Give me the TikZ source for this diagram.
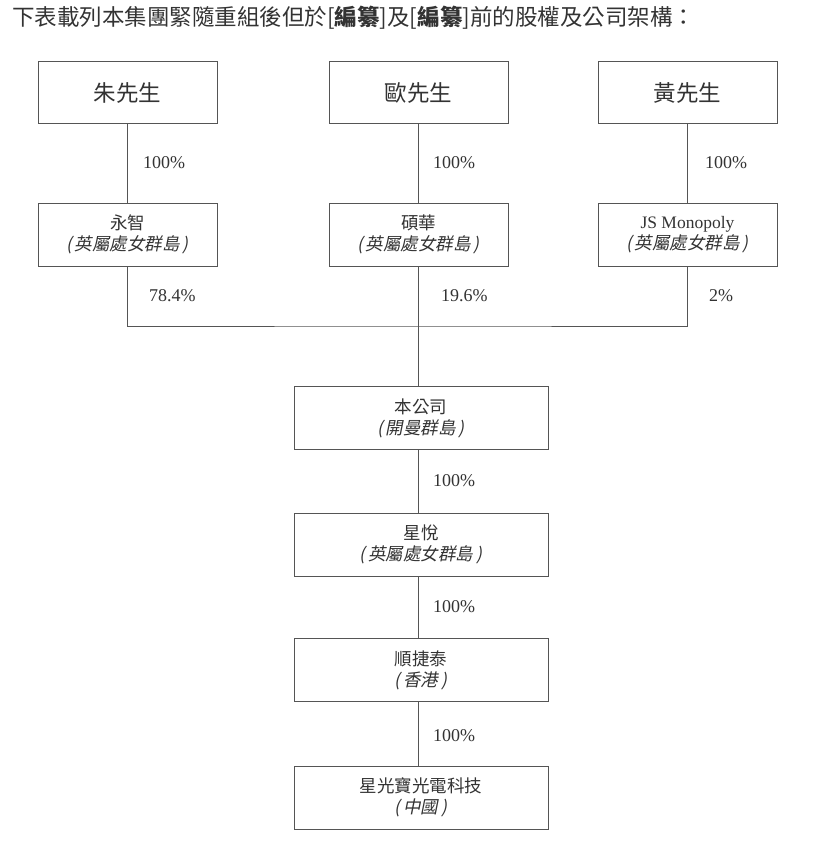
\documentclass[tikz,border=0pt]{standalone}
\usepackage{fontspec}
\setmainfont{Liberation Serif}
\newfontfamily\cjk{Noto Sans CJK TC}
\newfontfamily\cjkit[FakeSlant=0.2]{Noto Sans CJK TC}
\definecolor{linec}{HTML}{555555}
\definecolor{txtc}{HTML}{333333}
\newcommand{\plc}[1]{{\cjkit (\,#1\,)}}
\begin{document}
\begin{tikzpicture}[x=1pt,y=-1pt,
  ent/.style={draw=linec, line width=1pt, inner sep=0pt, align=center, text=txtc, font=\fontsize{17.5}{21}\selectfont},
  topbox/.style={ent, minimum width=179pt, minimum height=62pt, font=\fontsize{22.5}{25}\selectfont\cjk},
  midbox/.style={ent, minimum width=179pt, minimum height=63pt},
  lowbox/.style={ent, minimum width=254pt, minimum height=63pt},
  pct/.style={anchor=west, inner sep=0pt, text=txtc, font=\fontsize{18}{20}\selectfont},
  conn/.style={draw=linec, line width=1pt}]
\useasboundingbox (0,0) rectangle (813,845);
\node[anchor=west, inner sep=0pt, text=txtc, font=\fontsize{22.5}{24}\selectfont\cjk] (title) at (12,18)
  {下表載列本集團緊隨重組後但於[\textbf{編纂}]及[\textbf{編纂}]前的股權及公司架構：};
% top row
\node[topbox] (zhu) at (127.5,93) {朱先生};
\node[topbox] (ou) at (418.5,93) {歐先生};
\node[topbox] (huang) at (687.5,93) {黃先生};
% second row
\node[midbox] (yz) at (127.5,234.5) {{\cjk 永智}\\\plc{英屬處女群島}};
\node[midbox] (sh) at (418.5,234.5) {{\cjk 碩華}\\\plc{英屬處女群島}};
\node[midbox] (js) at (687.5,234.5) {JS Monopoly\\\plc{英屬處女群島}};
% chain
\node[lowbox] (co) at (421,418) {{\cjk 本公司}\\\plc{開曼群島}};
\node[lowbox] (xy) at (421,544.5) {{\cjk 星悅}\\\plc{英屬處女群島}};
\node[lowbox] (sjt) at (421,670) {{\cjk 順捷泰}\\\plc{香港}};
\node[lowbox] (xgb) at (421,797.5) {{\cjk 星光寶光電科技}\\\plc{中國}};
% connectors
\coordinate (bus) at (418.5,326);
\draw[conn] (zhu.south) -- (yz.north);
\draw[conn] (ou.south) -- (sh.north);
\draw[conn] (huang.south) -- (js.north);
\draw[conn] (yz.south) |- (bus) -| (js.south);
\draw[conn] (sh.south) -- (sh.south |- co.north);
\draw[conn] (co.south -| sh.south) -- (xy.north -| sh.south);
\draw[conn] (xy.south -| sh.south) -- (sjt.north -| sh.south);
\draw[conn] (sjt.south -| sh.south) -- (xgb.north -| sh.south);
% labels
\node[pct] (p1) at (143,163) {100\%};
\node[pct] (p2) at (433,163) {100\%};
\node[pct] (p3) at (705,163) {100\%};
\node[pct] (p4) at (149,296) {78.4\%};
\node[pct] (p5) at (441,296) {19.6\%};
\node[pct] (p6) at (709,296) {2\%};
\node[pct] (p7) at (433,481) {100\%};
\node[pct] (p8) at (433,607) {100\%};
\node[pct] (p9) at (433,736) {100\%};
\end{tikzpicture}
\end{document}
